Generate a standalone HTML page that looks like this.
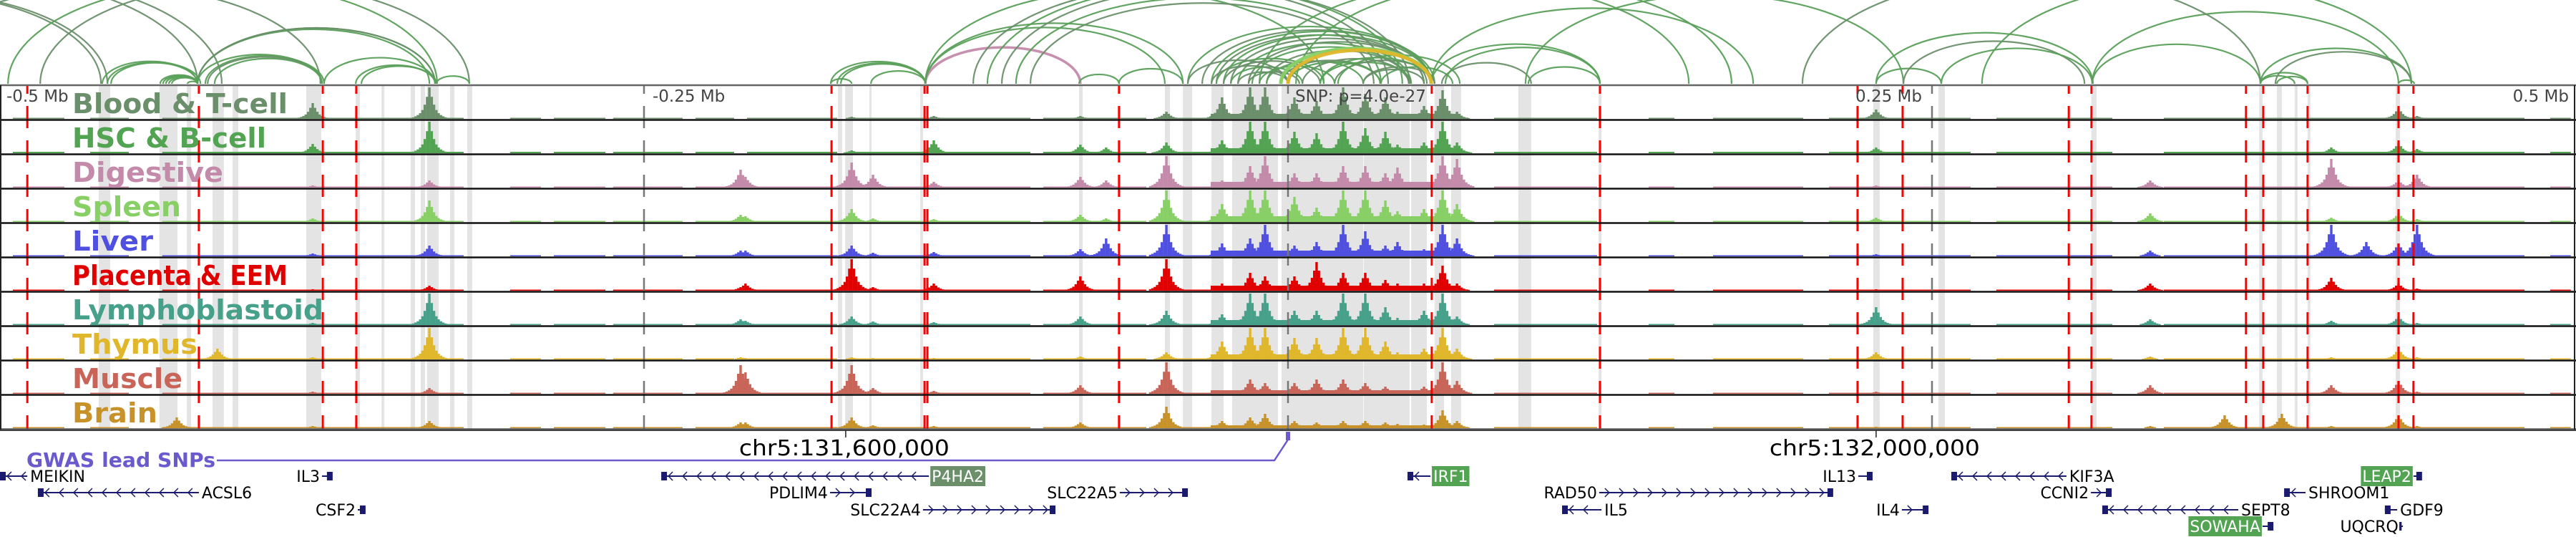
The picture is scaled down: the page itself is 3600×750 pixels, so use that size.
<!DOCTYPE html>
<html><head><meta charset="utf-8">
<style>
html,body{margin:0;padding:0;background:#fff;}
svg{display:block;}
text{font-family:"DejaVu Sans","Liberation Sans",sans-serif;}
</style></head>
<body>
<svg id="chart" width="3600" height="750" viewBox="0 0 3600 750" xmlns="http://www.w3.org/2000/svg">
  <rect x="0" y="0" width="3600" height="750" fill="#fff"/>
  <g id="arcs"></g>
  <g id="bands"></g>
  <g id="signals"></g>
  <g id="vlines"></g>
  <g id="frame"></g>
  <g id="labels"></g>
  <g id="genes"></g>
</svg>
<script>
// ---------- data (genomic offsets in kb relative to lead SNP) ----------
const trackNames = ["Blood & T-cell","HSC & B-cell","Digestive","Spleen","Liver","Placenta & EEM","Lymphoblastoid","Thymus","Muscle","Brain"];
const trackColors = ["#6a8f6a","#52a352","#c48aaa","#88d066","#5050e0","#e00000","#46a08a","#e0b62a","#c86458","#c8922a"];
const labelWidths = [301,271,211,152,113,301,351,175,154,119];
const peakPos = [-431.4,-415.6,-378.6,-333.3,-212.5,-210.6,-169.4,-161.1,-137.5,-80.6,-70.6,-47.2,-25.6,-14.7,-8.9,2.5,11.1,21.4,30,37.8,42.5,52.8,60,65.6,228.3,334.7,363.6,385.8,405,418.6,431.1,438.3];
const sigBlood = [0,0,22,44,0,0,3,0,4,4,0,10,30,44,44,30,25,44,35,30,10,18,40,10,13,0,0,0,0,0,15,4];
const sigHSC = [0,0,13,44,0,0,4,0,18,12,8,15,18,44,44,30,28,44,35,30,12,15,44,15,8,0,0,0,8,0,14,6];
const sigDigestive = [0,0,3,10,25,15,35,18,8,15,10,44,10,30,44,20,20,30,30,20,28,8,44,40,3,10,0,0,40,0,10,18];
const sigSpleen = [0,0,5,30,10,8,18,5,4,10,5,44,25,44,44,35,20,44,44,30,15,18,44,25,6,12,0,0,6,0,12,4];
const sigLiver = [0,0,4,15,8,8,15,5,6,10,25,44,18,25,44,15,20,44,35,15,20,10,44,25,3,8,0,0,44,20,18,44];
const sigPlacenta = [0,0,2,7,5,10,44,5,10,20,0,44,10,25,20,20,40,25,25,15,10,10,35,10,2,10,0,0,18,0,10,3];
const sigLympho = [0,0,3,44,8,6,12,5,4,12,0,20,15,44,44,20,20,44,44,25,10,20,44,12,25,8,0,0,6,0,12,3];
const sigThymus = [0,15,3,44,3,2,3,2,2,4,0,10,25,44,44,30,30,44,44,25,10,15,44,15,10,4,0,0,3,0,15,3];
const sigMuscle = [0,0,3,8,40,30,40,8,4,12,0,44,5,20,15,15,20,20,15,10,5,10,44,18,3,12,0,0,12,0,18,3];
const sigBrain = [15,0,3,10,8,8,15,4,3,8,0,30,10,15,20,10,8,10,10,8,6,5,25,10,2,3,18,20,3,0,18,3];
const baseLevel = [1.5,2,1.5,1.5,1.5,1.5,1.5,1.5,1.5,1.5];
const clusterLevel = [7,7,8,8,8,7,7,7,5,4];
const clusterRange = [-30,67];
const baseRanges = [[-495,-475],[-465,-450],[-437,-320],[-302,-290],[-285,-265],[-262,-235],[-230,-215],[-210,-175],[-170,-100],[-95,-55],[-50,70],[80,120],[140,150],[165,200],[210,265],[275,320],[340,480],[490,498]];
const bandStarts = [-461.7,-438.1,-427.5,-417.5,-409.7,-381.1,-361.9,-351.9,-340.6,-336.7,-334.2,-325.3,-318.6,-174.7,-171.9,-162.5,-142.8,-81.1,-47.8,-40.8,-29.7,-21.7,-2.5,29.4,47.8,56.9,63.3,89.4,120.6,227.2,252.5,311.9,377,383.9,390.8,395.8,430];
const bandEnds = [-457.2,-431.1,-425.8,-413.1,-407.5,-375.3,-360.3,-350.8,-338.9,-335,-329.7,-323.6,-316.7,-173.1,-168.9,-161.7,-141.7,-79.7,-45.8,-37.2,-25,-3.9,29.2,47.2,53.9,60.6,67.2,94.4,121.7,229.7,255,313.9,378.3,385.8,391.9,396.9,431.7];
const redLines = [-489.4,-422.8,-374.7,-361.7,-177.2,-141.1,-140,-65.6,55.8,121.1,221.1,238.6,303.1,311.9,371.9,378.6,395.8,431.1,436.9];
const axisTicks = [-250,0,250];
const arcStarts = [-611.1,-608.3,-601.1,-591.7,-536.7,-496.9,-484.4,-460.3,-458.3,-456.9,-437.8,-436.7,-435.6,-434.4,-433.3,-427.2,-423.3,-423.3,-423.3,-423.3,-420.3,-419.4,-416.7,-374.2,-361.9,-359.7,-330.6,
 -177.5,-175,-173.6,-177.5,-161.9,-140.8,-140.8,-140.8,-140.8,-81.1,-65.6,
 -38.9,-33.3,-29.7,-27.8,-25,-22.2,-19.4,-15.3,-13.9,-8.3,-27.8,-25,-22.2,-15.3,-8.3,-2.8,0,5.6,12.5,18.1,19.4,29.2,36.1,12.5,-38.9,-29.7,-19.4,-11.1,29.2,
 -122.2,-116.7,-111.1,-105.6,-100,-11.1,3.1,55.6,93.3,55.6,59.7,61.1,92.2,228.3,228.3,238.9,253.6,312.2,312.2,199.7,269.4,377.5,377.5,383.9,377.5,383.3,431.1,-2.8,0];
const arcEnds = [-460.8,-458.3,-423.3,-413.9,-375.6,-330.3,-317.8,-423.3,-423.3,-422.2,-423.3,-423.3,-423.3,-423.3,-423.3,-423.3,-331.1,-333.3,-331.1,-375,-374.2,-375,-375,-331.1,-331.1,-330.6,-317.8,
 -140.8,-140.8,-140.8,-169.4,-140.8,-80.6,-40.8,-47.8,13.9,-65.6,-40.8,
 55.6,55.6,56.9,52.8,55.6,52.8,47.8,53.9,46.9,46.9,13.9,12.5,5.6,4.4,29.2,35.8,35.8,46.9,47.8,56.9,66.7,56.9,63.9,55.6,0,0,0,18.1,52.8,
 38.9,44.4,47.2,36.1,33.3,155.6,172.2,180.6,121.1,121.1,94.4,121.1,238.9,253.6,312.5,309.2,312.2,377.5,431.1,377.5,436.1,395.8,390.8,395.8,436.1,436.1,437.2,55.6,55.6];
const arcKinds = [0,0,0,0,0,1,0,1,1,1,1,1,1,1,1,1,1,1,0,1,1,0,1,1,1,1,1,
 1,1,1,1,1,1,1,1,1,1,1,
 1,0,1,0,1,0,1,0,1,0,1,0,1,0,1,0,1,0,1,0,1,0,1,1,0,0,0,1,0,
 0,1,0,1,0,1,1,1,1,1,0,1,1,1,1,0,1,1,1,0,1,1,1,1,1,0,1,3,2];
const geneNames = ["MEIKIN","IL3","ACSL6","CSF2","P4HA2","PDLIM4","SLC22A4","SLC22A5","IRF1","RAD50","IL5","IL13","IL4","KIF3A","CCNI2","SEPT8","SOWAHA","SHROOM1","LEAP2","GDF9","UQCRQ"];
const geneStarts = [-500,-375,-485.3,-361.1,-243.3,-177.8,-141.7,-65.3,46.4,120.8,106.4,221.4,238.3,257.5,311.7,316.1,378.3,386.7,436.9,425.8,431.9];
const geneEnds = [-489.4,-371.7,-422.8,-358.9,-139.4,-162.5,-91.1,-39.7,55.3,210.8,121.7,226.1,247.8,302.2,318.9,368.9,381.7,395,439.4,430.6,432.8];
const geneRows = [0,0,1,2,0,1,2,1,0,1,2,0,2,0,1,2,3,1,0,2,3];
const geneStrand = [-1,1,-1,1,-1,1,1,1,-1,1,-1,1,1,-1,1,-1,1,-1,1,-1,1];
const geneLabelRight = [1,0,1,0,1,0,0,0,1,0,1,0,0,1,0,1,0,1,0,1,0];
const geneHighlight = ["","","","","#6a8f6a","","","","#52a352","","","","","","","","#52a352","","#52a352","",""];
const snpPos = 0;
const chrLabels = ["chr5:131,600,000","chr5:132,000,000"];
const chrPos = [-171.7,228.3];

// ---------- scales ----------
const NS="http://www.w3.org/2000/svg";
const xS = kb => (kb+500)*3.6;
const TOP=120, ROWH=48;
const yBase = t => TOP+ROWH*t+46;
const hS = v => v;
function mk(tag, attrs, parent){const e=document.createElementNS(NS,tag);for(const k in attrs)e.setAttribute(k,attrs[k]);parent.appendChild(e);return e;}
const sigs=[sigBlood,sigHSC,sigDigestive,sigSpleen,sigLiver,sigPlacenta,sigLympho,sigThymus,sigMuscle,sigBrain];

// arcs
const gA=document.getElementById('arcs');
const arcColors=["#6a8f6a","#5aa05a","#e0b62a","#88d066"];
for(let i=0;i<arcStarts.length;i++){
  const x1=xS(arcStarts[i]),x2=xS(arcEnds[i]);const rx=(x2-x1)/2,ry=rx*0.47;
  let col=arcColors[arcKinds[i]], w=2.2;
  if(i===32){col="#c48aaa";w=3.5;}
  if(arcKinds[i]===2||arcKinds[i]===3)w=5;
  const p=mk('path',{d:`M${x1},117 A${rx},${ry} 0 0 1 ${x2},117`,fill:"none",stroke:col,'stroke-width':w,opacity:0.95},gA);
  
  
}
// bands
const gB=document.getElementById('bands');
for(let i=0;i<bandStarts.length;i++){
  const r=mk('rect',{x:xS(bandStarts[i]),y:TOP,width:Math.max(2,xS(bandEnds[i])-xS(bandStarts[i])),height:480,fill:"#e4e4e4"},gB);
  
  
}
// signals
const gS=document.getElementById('signals');
const falloff=[0.05,0.08,0.12,0.18,0.28,0.45,0.7,1,0.7,0.45,0.28,0.18,0.12,0.08,0.05];
for(let t=0;t<10;t++){
  const g=mk('g',{fill:trackColors[t]},gS);
  
  
  const yb=yBase(t);
  baseRanges.forEach(r=>{mk('rect',{x:xS(r[0]),y:yb-hS(baseLevel[t]),width:xS(r[1])-xS(r[0]),height:hS(baseLevel[t])},g);});
  mk('rect',{x:xS(clusterRange[0]),y:yb-hS(clusterLevel[t]),width:xS(clusterRange[1])-xS(clusterRange[0]),height:hS(clusterLevel[t])},g);
  const s=sigs[t];
  const c=(falloff.length-1)/2;
  for(let i=0;i<peakPos.length;i++){
    if(!s[i])continue;
    for(let k=0;k<falloff.length;k++){
      const h=Math.min(45,hS(s[i]*falloff[k]));if(h<1)continue;
      const x=xS(peakPos[i]+(k-c)*0.9);
      mk('rect',{x:x-1.7,y:yb-h,width:3.4,height:h},g);
    }
  }
}
// lines
const gV=document.getElementById('vlines');
axisTicks.forEach(k=>{const l=mk('line',{x1:xS(k),x2:xS(k),y1:120,y2:600,stroke:"#777",'stroke-width':2.5,'stroke-dasharray':"31 17",'stroke-dashoffset':20},gV);
  });
redLines.forEach(k=>{const l=mk('line',{x1:xS(k),x2:xS(k),y1:120,y2:600,stroke:"#ff0000",'stroke-width':3,'stroke-dasharray':"31 17",'stroke-dashoffset':20},gV);
  });
// frame
const gF=document.getElementById('frame');
mk('line',{x1:0,x2:3600,y1:119,y2:119,stroke:"#666",'stroke-width':2.5},gF);
for(let t=0;t<10;t++){mk('line',{x1:0,x2:3600,y1:TOP+ROWH*(t+1)-0.5,y2:TOP+ROWH*(t+1)-0.5,stroke:t===9?"#555":"#111",'stroke-width':2.5},gF);}
mk('line',{x1:1,x2:1,y1:119,y2:600,stroke:"#222",'stroke-width':2},gF);
mk('line',{x1:3598,x2:3598,y1:119,y2:600,stroke:"#222",'stroke-width':2},gF);
// labels
const gL=document.getElementById('labels');
for(let t=0;t<10;t++){
  const tx=mk('text',{x:101,y:TOP+ROWH*t+38,fill:trackColors[t],'font-size':38,'font-weight':'bold',textLength:labelWidths[t],lengthAdjust:'spacingAndGlyphs'},gL);
  tx.textContent=trackNames[t];
  
  
}
const axisText=[["-0.5 Mb",9,"start"],["-0.25 Mb",912,"start"],["0.25 Mb",2686,"end"],["0.5 Mb",3590,"end"],["SNP: p=4.0e-27",1810,"start"]];
axisText.forEach(a=>{const tx=mk('text',{x:a[1],y:142,fill:"#444",'font-size':23,'text-anchor':a[2]},gL);tx.textContent=a[0];
  });
// genes
const gG=document.getElementById('genes');
mk('line',{x1:0,x2:3600,y1:601,y2:601,stroke:"#444",'stroke-width':2},gG);
chrPos.forEach((k,i)=>{mk('line',{x1:xS(k),x2:xS(k),y1:601,y2:611,stroke:"#222",'stroke-width':1.5},gG);
  const tx=mk('text',{x:xS(k)-2,y:636,'font-size':30,'text-anchor':'middle',fill:"#000",textLength:294,lengthAdjust:'spacingAndGlyphs'},gG);tx.textContent=chrLabels[i];
  });
const gw=mk('text',{x:37,y:652,'font-size':28,'font-weight':'bold',fill:"#6a5acd",textLength:264,lengthAdjust:'spacingAndGlyphs'},gG);gw.textContent="GWAS lead SNPs";

const sx=xS(snpPos);
const gp=mk('path',{d:`M303,643 L${sx-19},643 L${sx},614`,fill:"none",stroke:"#6a5acd",'stroke-width':2.5},gG);

const st=mk('rect',{x:sx-3,y:603,width:6,height:12,fill:"#6a5acd"},gG);

const rowY=[665,688,712,735];
for(let i=0;i<geneNames.length;i++){
  const g=mk('g',{},gG);
  
  
  const x1=xS(geneStarts[i]),x2=xS(geneEnds[i]),y=rowY[geneRows[i]];
  mk('line',{x1:x1,x2:x2,y1:y,y2:y,stroke:"#1a1a6e",'stroke-width':2},g);
  mk('rect',{x:geneStrand[i]<0?x1:x2-5,y:y-6,width:Math.min(8,x2-x1),height:12,fill:"#1a1a6e"},g);
  for(let ax=x1+12;ax<x2-6;ax+=20){
    const d=geneStrand[i]>0?`M${ax-4},${y-6} L${ax+2},${y} L${ax-4},${y+6}`:`M${ax+4},${y-6} L${ax-2},${y} L${ax+4},${y+6}`;
    mk('path',{d:d,fill:"none",stroke:"#1a1a6e",'stroke-width':1.5},g);
  }
  const right=geneLabelRight[i]===1;
  const tx=mk('text',{x:right?x2+4:x1-3,y:y+8,'font-size':22,'text-anchor':right?'start':'end',fill:geneHighlight[i]?"#fff":"#000"},g);
  tx.textContent=geneNames[i];
  if(geneHighlight[i]){
    const bb=tx.getBBox();
    const bg=mk('rect',{x:bb.x-2,y:y-14,width:bb.width+4,height:28,fill:geneHighlight[i]},g);
    g.insertBefore(bg,tx);
  }
}
</script>
</body></html>
